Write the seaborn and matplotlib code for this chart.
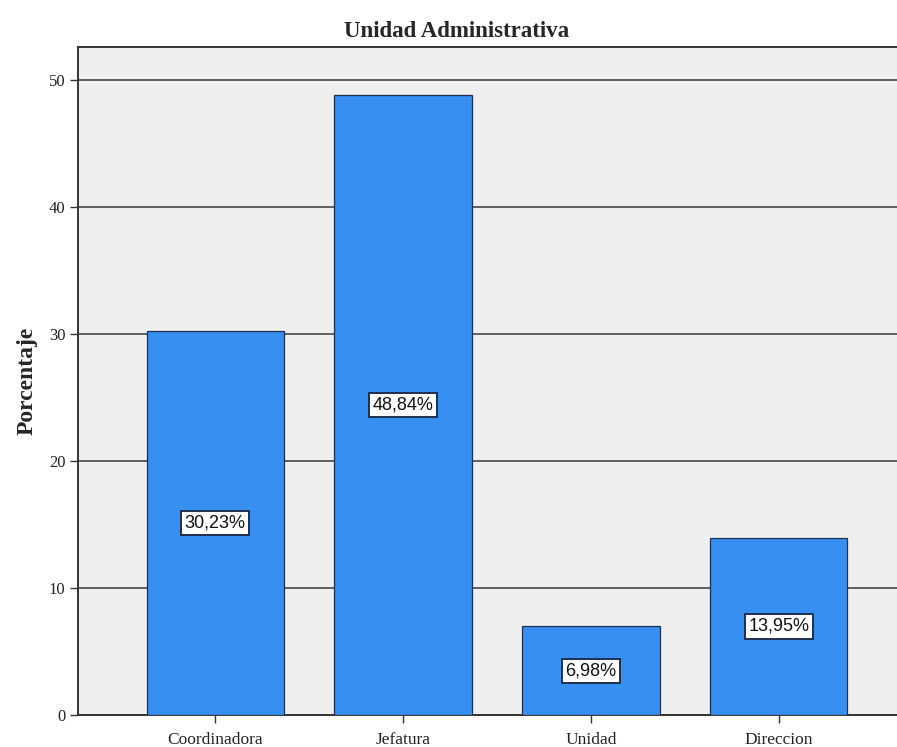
import matplotlib
matplotlib.use("Agg")
import matplotlib.pyplot as plt
import seaborn as sns
import pandas as pd

categories = ["Coordinadora", "Jefatura", "Unidad", "Direccion"]
percentages = [30.23, 48.84, 6.98, 13.95]
yticks = [0, 10, 20, 30, 40, 50]

df = pd.DataFrame({"Unidad": categories, "Porcentaje": percentages})

sns.set_theme(style="white")
serif = ["Liberation Serif", "DejaVu Serif"]
plt.rcParams["font.family"] = serif

fig = plt.figure(figsize=(8.97, 7.47), dpi=100)
ax = fig.add_axes([78 / 897, 32 / 747, 838 / 897, 668 / 747])
ax.set_facecolor("#efefef")

sns.barplot(data=df, x="Unidad", y="Porcentaje", color="#378ff2",
            saturation=1, width=0.73, edgecolor="#1f2f4f", linewidth=0.9,
            ax=ax, zorder=3)

ax.set_xlim(-0.73, 3.73)
ax.set_ylim(0, 52.6)
ax.set_yticks(yticks)
ax.set_yticklabels([str(t) for t in yticks], fontsize=12, color="#222222")
ax.yaxis.grid(True, color="#555555", linewidth=1.3, zorder=1)
ax.set_axisbelow(True)
ax.tick_params(axis="both", length=6, width=1, color="#333333", direction="out",
               bottom=True, left=True)
ax.tick_params(axis="y", pad=3)
ax.tick_params(axis="x", labelsize=12.5, labelcolor="#222222", pad=6)

for s in ["left", "bottom", "top", "right"]:
    ax.spines[s].set_color("#333333")
    ax.spines[s].set_linewidth(1.4)

ax.set_xlabel("")
ax.set_ylabel("Porcentaje", fontsize=17, fontweight="bold", labelpad=8)
ax.set_title("Unidad Administrativa", fontsize=16.5, fontweight="bold",
             pad=7, x=(457 - 78) / 838)

for i, v in enumerate(percentages):
    ax.text(i, v / 2, f"{v:.2f}%".replace(".", ","), ha="center", va="center",
            fontsize=13, color="#111111", zorder=5,
            family=["Liberation Sans", "DejaVu Sans"],
            bbox=dict(boxstyle="square,pad=0.2", facecolor="white",
                      edgecolor="#1f2f4f", linewidth=1.4))

fig.savefig("out.png", dpi=100)
